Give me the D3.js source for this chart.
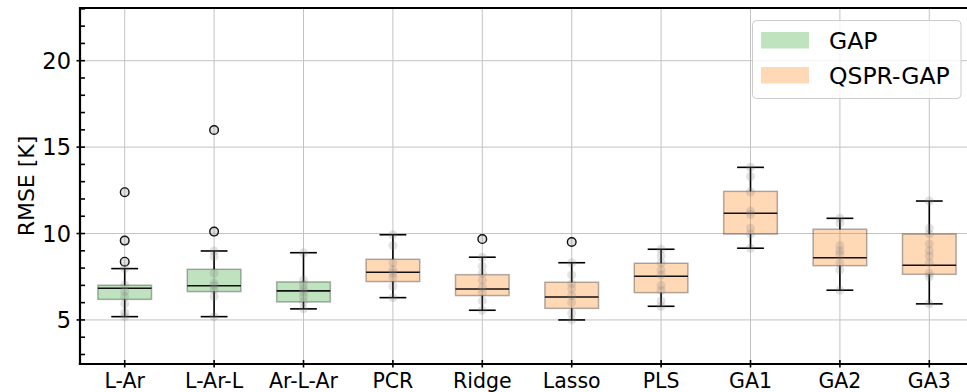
<!DOCTYPE html>
<html>
<head>
<meta charset="utf-8">
<script src="https://cdn.jsdelivr.net/npm/d3@7"></script>
<style>
  html, body { margin: 0; padding: 0; background: #fff; }
  svg { display: block; font-family: "DejaVu Sans", sans-serif; }
</style>
</head>
<body>
<svg id="chart" width="967" height="392"></svg>
<script>
// Models compared, in plotting order
const categories = ["L-Ar", "L-Ar-L", "Ar-L-Ar", "PCR", "Ridge", "Lasso", "PLS", "GA1", "GA2", "GA3"];
const groups = ["GAP", "GAP", "GAP", "QSPR-GAP", "QSPR-GAP", "QSPR-GAP", "QSPR-GAP", "QSPR-GAP", "QSPR-GAP", "QSPR-GAP"];

// Box-plot summaries of the RMSE [K] per model
const whiskerLow  = [5.19, 5.19, 5.64, 6.29, 5.56, 5.00, 5.79,  9.15, 6.72, 5.93];
const q1          = [6.19, 6.64, 6.04, 7.22, 6.41, 5.67, 6.58,  9.97, 8.14, 7.64];
const median      = [6.83, 6.98, 6.68, 7.76, 6.79, 6.33, 7.53, 11.17, 8.60, 8.16];
const q3          = [7.01, 7.93, 7.20, 8.51, 7.62, 7.18, 8.28, 12.44, 10.25, 9.97];
const whiskerHigh = [7.97, 8.99, 8.89, 9.93, 8.63, 8.31, 9.09, 13.83, 10.88, 11.88];
const outliers = [
  [12.39, 9.59, 8.37],
  [15.99, 10.11],
  [], [], [9.68], [9.51], [], [], [], []
];

// Individual fold scores drawn faintly over each box
const points = [
  [12.39, 9.59, 8.37, 7.97, 7.02, 6.64, 6.35, 5.93, 5.42, 5.19],
  [15.99, 10.11, 8.99, 8.66, 7.70, 7.12, 6.98, 6.74, 6.35, 5.19],
  [8.89, 7.30, 7.05, 6.80, 6.60, 6.35, 6.05, 5.64],
  [9.93, 9.30, 8.30, 7.90, 7.70, 7.45, 6.95, 6.29],
  [9.68, 8.63, 8.10, 7.70, 7.30, 6.90, 6.60, 6.10, 5.56],
  [9.51, 8.31, 7.60, 7.10, 6.80, 6.40, 6.00, 5.40, 5.00],
  [9.09, 8.70, 8.30, 7.90, 7.60, 7.00, 6.70, 6.10, 5.79],
  [13.83, 13.30, 12.40, 11.30, 11.10, 10.30, 9.97, 9.15],
  [10.88, 10.60, 9.30, 9.00, 8.80, 8.30, 7.90, 6.72],
  [11.88, 10.30, 9.97, 9.40, 9.00, 8.70, 8.30, 7.70, 7.50, 5.93]
];

const yTicks = [5, 10, 15, 20];
const yMinorTicks = [3, 4, 6, 7, 8, 9, 11, 12, 13, 14, 16, 17, 18, 19, 21, 22, 23];
const legendLabels = ["GAP", "QSPR-GAP"];
const groupColors = { "GAP": "#2ca02c", "QSPR-GAP": "#ff7f0e" };

const svg = d3.select("#chart");
const plotLeft = 80, plotRight = 974, plotTop = 8, plotBottom = 364;

const x = d3.scaleLinear().domain([0.5, categories.length + 0.5]).range([plotLeft, plotRight]);
const y = d3.scaleLinear().domain([2.45, 23.05]).range([plotBottom, plotTop]);
const step = x(2) - x(1);
const boxW = step * 0.6;
const capW = boxW * 0.5;

// Grid
const grid = svg.append("g").attr("stroke", "#b0b0b0").attr("stroke-width", 1).attr("opacity", 0.75);
grid.selectAll(".gy").data(yTicks).join("line")
  .attr("x1", plotLeft).attr("x2", plotRight)
  .attr("y1", d => y(d)).attr("y2", d => y(d));
grid.selectAll(".gx").data(categories).join("line")
  .attr("x1", (d, i) => x(i + 1)).attr("x2", (d, i) => x(i + 1))
  .attr("y1", plotTop).attr("y2", plotBottom);

// Boxes
const boxes = svg.append("g");
categories.forEach((c, i) => {
  const cx = x(i + 1);
  const g = boxes.append("g");
  const col = groupColors[groups[i]];
  // whiskers
  g.append("line").attr("x1", cx).attr("x2", cx)
    .attr("y1", y(q3[i])).attr("y2", y(whiskerHigh[i]))
    .attr("stroke", "#000").attr("stroke-width", 1.6);
  g.append("line").attr("x1", cx).attr("x2", cx)
    .attr("y1", y(q1[i])).attr("y2", y(whiskerLow[i]))
    .attr("stroke", "#000").attr("stroke-width", 1.6);
  // caps
  [whiskerHigh[i], whiskerLow[i]].forEach(v => {
    g.append("line").attr("x1", cx - capW / 2).attr("x2", cx + capW / 2)
      .attr("y1", y(v)).attr("y2", y(v))
      .attr("stroke", "#000").attr("stroke-width", 1.6);
  });
  // box
  g.append("rect")
    .attr("x", cx - boxW / 2).attr("width", boxW)
    .attr("y", y(q3[i])).attr("height", y(q1[i]) - y(q3[i]))
    .attr("fill", col).attr("fill-opacity", 0.3)
    .attr("stroke", "#000").attr("stroke-opacity", 0.3).attr("stroke-width", 1.5);
  // median
  g.append("line").attr("x1", cx - boxW / 2).attr("x2", cx + boxW / 2)
    .attr("y1", y(median[i])).attr("y2", y(median[i]))
    .attr("stroke", "#111").attr("stroke-width", 1.6);
  // outlier rings
  g.selectAll(".fl").data(outliers[i]).join("circle")
    .attr("cx", cx).attr("cy", d => y(d)).attr("r", 4.3)
    .attr("fill", "none").attr("stroke", "#000").attr("stroke-width", 1.4);
  // faint fold points
  g.selectAll(".pt").data(points[i]).join("circle")
    .attr("cx", cx).attr("cy", d => y(d)).attr("r", 4.5)
    .attr("fill", "#808080").attr("fill-opacity", 0.22);
});

// Spines
const spines = svg.append("g").attr("stroke", "#000").attr("stroke-width", 2.2).attr("fill", "none");
spines.append("line").attr("x1", plotLeft).attr("x2", plotLeft).attr("y1", plotTop).attr("y2", plotBottom + 1.1);
spines.append("line").attr("x1", plotLeft - 1.1).attr("x2", plotRight).attr("y1", plotBottom).attr("y2", plotBottom);
spines.append("line").attr("x1", plotLeft - 1.1).attr("x2", plotRight).attr("y1", plotTop).attr("y2", plotTop);

// Ticks
const ticks = svg.append("g").attr("stroke", "#000").attr("stroke-width", 1.6);
ticks.selectAll(".ym").data(yTicks).join("line")
  .attr("x1", plotLeft - 3.5).attr("x2", plotLeft + 5)
  .attr("y1", d => y(d)).attr("y2", d => y(d));
ticks.selectAll(".yn").data(yMinorTicks).join("line")
  .attr("x1", plotLeft).attr("x2", plotLeft + 5)
  .attr("y1", d => y(d)).attr("y2", d => y(d));
ticks.selectAll(".xm").data(categories).join("line")
  .attr("x1", (d, i) => x(i + 1)).attr("x2", (d, i) => x(i + 1))
  .attr("y1", plotBottom - 4).attr("y2", plotBottom + 3.5);

// Tick labels
svg.append("g").selectAll("text").data(yTicks).join("text")
  .attr("x", plotLeft - 9).attr("y", d => y(d)).attr("dy", "0.36em")
  .attr("text-anchor", "end").attr("font-size", 22.5).attr("fill", "#000")
  .text(d => d);
svg.append("g").selectAll("text").data(categories).join("text")
  .attr("x", (d, i) => x(i + 1)).attr("y", 388)
  .attr("text-anchor", "middle").attr("font-size", 20.5).attr("fill", "#000")
  .text(d => d);

// Axis title
svg.append("text")
  .attr("transform", `translate(33.5, ${(plotTop + plotBottom) / 2}) rotate(-90)`)
  .attr("text-anchor", "middle").attr("font-size", 22).attr("fill", "#000")
  .text("RMSE [K]");

// Legend
const lg = svg.append("g");
lg.append("rect").attr("x", 752.5).attr("y", 20.5).attr("width", 208.5).attr("height", 78)
  .attr("rx", 4).attr("fill", "#fff").attr("fill-opacity", 0.8)
  .attr("stroke", "#cccccc").attr("stroke-width", 1);
legendLabels.forEach((lab, k) => {
  const yy = 32 + k * 35;
  lg.append("rect").attr("x", 761).attr("y", yy).attr("width", 48).attr("height", 16.5)
    .attr("fill", groupColors[lab]).attr("fill-opacity", 0.3);
  lg.append("text").attr("x", 829).attr("y", yy + 8.5).attr("dy", "0.36em")
    .attr("font-size", 23.5).attr("fill", "#000").text(lab);
});
</script>
</body>
</html>
